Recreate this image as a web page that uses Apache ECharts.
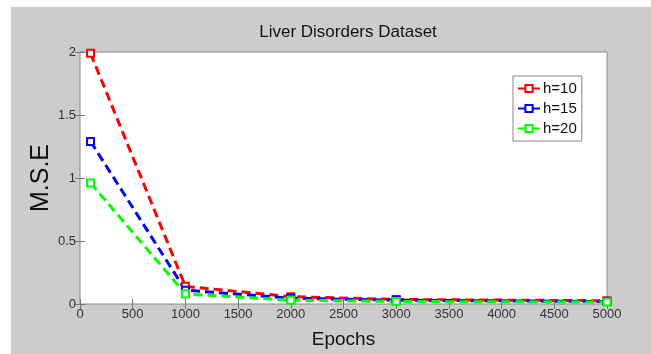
<!DOCTYPE html>
<html>
<head>
<meta charset="utf-8">
<script src="https://cdn.jsdelivr.net/npm/echarts@6/dist/echarts.min.js"></script>
<style>
  html, body { margin: 0; padding: 0; background: #fff; }
  #chart { width: 651px; height: 354px; }
</style>
</head>
<body>
<div id="chart"></div>
<script>
// Liver Disorders Dataset - MSE vs epochs for hidden sizes
const epochs = [100, 1000, 2000, 3000, 5000];
const h10 = [1.99, 0.14, 0.058, 0.036, 0.026];
const h15 = [1.29, 0.11, 0.046, 0.03, 0.02];
const h20 = [0.96, 0.08, 0.03, 0.02, 0.015];
const xTicks = [0, 500, 1000, 1500, 2000, 2500, 3000, 3500, 4000, 4500, 5000];
const yTicks = [0, 0.5, 1, 1.5, 2];

const font = '"Liberation Sans", Arial, sans-serif';
const pair = (xs, ys) => xs.map((x, i) => [x, ys[i]]);

const makeSeries = (name, color, values) => ({
  name,
  type: 'line',
  data: pair(epochs, values),
  symbol: 'emptyRect',
  symbolSize: 7,
  showAllSymbol: true,
  lineStyle: { width: 3, type: [9, 5], color },
  itemStyle: { color, borderWidth: 2 },
  emphasis: { disabled: true },
  z: 3
});

const baseX = {
  type: 'value',
  min: 0,
  max: 5000,
  interval: 500,
  splitLine: { show: false },
  axisLine: { show: false },
  axisTick: { show: true, inside: true, length: 5, lineStyle: { color: '#777' } }
};
const baseY = {
  type: 'value',
  min: 0,
  max: 2,
  interval: 0.5,
  splitLine: { show: false },
  axisLine: { show: false },
  axisTick: { show: true, inside: true, length: 5, lineStyle: { color: '#777' } }
};

const chart = echarts.init(document.getElementById('chart'));
chart.setOption({
  backgroundColor: '#fff',
  animation: false,
  graphic: [{
    type: 'rect',
    left: 11,
    top: 7,
    shape: { width: 640, height: 347 },
    style: { fill: '#cccccc' },
    z: -10,
    silent: true
  }],
  title: {
    text: 'Liver Disorders Dataset',
    left: 343,
    textAlign: 'center',
    top: 19,
    textStyle: { fontFamily: font, fontSize: 17, fontWeight: 'normal', color: '#111' }
  },
  legend: {
    orient: 'vertical',
    left: 513,
    top: 76,
    backgroundColor: '#fff',
    borderColor: '#888',
    borderWidth: 1,
    padding: [4, 5, 4, 4],
    itemGap: 3,
    itemWidth: 22,
    itemHeight: 9,
    textStyle: { fontFamily: font, fontSize: 15, lineHeight: 17, color: '#111', padding: [0, 0, 0, -2] },
    data: ['h=10', 'h=15', 'h=20']
  },
  grid: {
    left: 80,
    right: 44,
    top: 52,
    bottom: 49,
    show: true,
    backgroundColor: '#fff',
    borderColor: '#888',
    borderWidth: 1
  },
  xAxis: [
    Object.assign({}, baseX, {
      position: 'bottom',
      name: 'Epochs',
      nameLocation: 'middle',
      nameGap: 26,
      nameTextStyle: { fontFamily: font, fontSize: 19, color: '#111' },
      axisLabel: {
        fontFamily: font, fontSize: 13, color: '#333', margin: 4,
        customValues: xTicks, formatter: (v) => String(v)
      }
    }),
    Object.assign({}, baseX, { position: 'top', axisLabel: { show: false } })
  ],
  yAxis: [
    Object.assign({}, baseY, {
      position: 'left',
      name: 'M.S.E',
      nameLocation: 'middle',
      nameGap: 26,
      nameMoveOverlap: false,
      nameTextStyle: { fontFamily: font, fontSize: 25, color: '#111' },
      axisLabel: {
        fontFamily: font, fontSize: 13, color: '#333', margin: 4,
        customValues: yTicks, formatter: (v) => String(v)
      }
    }),
    Object.assign({}, baseY, { position: 'right', axisLabel: { show: false } })
  ],
  series: [
    makeSeries('h=10', '#ff0000', h10),
    makeSeries('h=15', '#0000ff', h15),
    makeSeries('h=20', '#00ff00', h20)
  ]
});
</script>
</body>
</html>
